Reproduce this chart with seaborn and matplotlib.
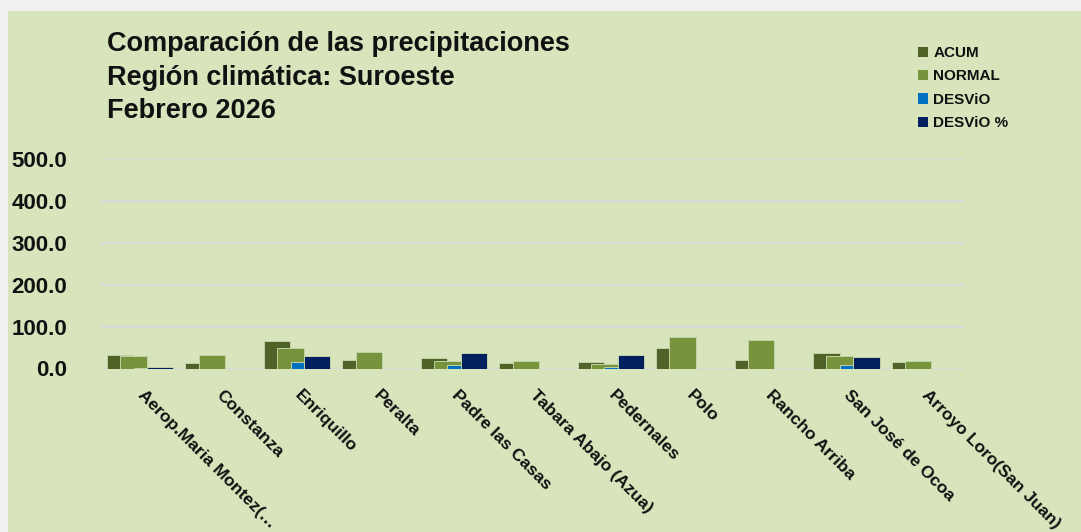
import matplotlib
matplotlib.use("Agg")
import matplotlib.pyplot as plt
import seaborn as sns
import numpy as np
from matplotlib.patches import Patch, Rectangle

# ---- data ----
stations = ["Aerop.Maria Montez(…", "Constanza", "Enriquillo", "Peralta", "Padre las Casas",
            "Tabara Abajo (Azua)", "Pedernales", "Polo", "Rancho Arriba", "San José de Ocoa",
            "Arroyo Loro(San Juan)"]
acum = [32.0, 12.5, 66.0, 20.5, 24.5, 12.5, 15.0, 50.0, 20.0, 37.5, 15.0]
normal = [29.5, 32.5, 50.0, 40.5, 17.5, 17.5, 11.0, 74.0, 67.0, 29.5, 17.5]
desvio = [2.0, -20.0, 15.5, -20.0, 7.5, -5.0, 4.0, -24.0, -47.0, 8.0, -2.5]
desvio_pct = [4.0, -61.5, 30.5, -49.4, 37.5, -28.6, 32.5, -32.4, -70.1, 27.0, -14.3]
series_names = ["ACUM", "NORMAL", "DESViO", "DESViO %"]
y_ticks = [0, 100, 200, 300, 400, 500]

colors = ["#4f6228", "#77933c", "#0070c0", "#002060"]
bg = "#d8e4bc"

sns.set_theme(style="white")
plt.rcParams["font.family"] = ["Liberation Sans", "DejaVu Sans"]

W, H = 1081, 532
fig = plt.figure(figsize=(W / 100, H / 100), dpi=100)
fig.patch.set_facecolor("#f1f1f1")
fig.add_artist(Rectangle((8 / W, 0), 1 - 8 / W, 1 - 11 / H, transform=fig.transFigure,
                         facecolor=bg, edgecolor="none", zorder=0))

ax = fig.add_axes([101 / W, 1 - 368.5 / H, (964 - 101) / W, (368.5 - 159) / H])
ax.set_facecolor(bg)
ax.patch.set_alpha(0)

x = np.arange(len(stations))
width = 0.338
step = 0.17
offsets = [-1.5 * step, -0.5 * step, 0.5 * step, 1.5 * step]
for vals, off, col in zip([acum, normal, desvio, desvio_pct], offsets, colors):
    sns.barplot(x=x + off, y=vals, native_scale=True, width=width, color=col,
                edgecolor="#c3d2a6", linewidth=0.7, errorbar=None, ax=ax,
                saturation=1, zorder=3)

ax.set_xlim(-0.5, len(stations) - 0.5)
ax.set_ylim(0, 500)
ax.set_yticks(y_ticks)
ax.set_yticklabels([f"{v:.1f}" for v in y_ticks], fontsize=16, fontweight="bold", color="#111111")
ax.yaxis.grid(True, color="#d9d9d9", linewidth=1.6, zorder=0)
ax.xaxis.grid(False)
ax.set_axisbelow(True)
for s in ax.spines.values():
    s.set_visible(False)
ax.tick_params(axis="y", length=0, pad=24.5)
ax.tick_params(axis="x", length=0, pad=17.5)
ax.set_xticks(x)
ax.set_xticklabels(stations, rotation=-45, ha="left", va="center", rotation_mode="anchor",
                   fontsize=12.5, fontweight="bold", color="#111111")
ax.set_xlabel("")
ax.set_ylabel("")

# Title
title_lines = ["Comparación de las precipitaciones", "Región climática: Suroeste", "Febrero 2026"]
for line, yb in zip(title_lines, [51, 85, 118.5]):
    fig.text(107 / W, 1 - yb / H, line, fontsize=19.5, fontweight="bold", color="#111111",
             va="baseline", ha="left")

handles = [Patch(facecolor=c, edgecolor="none") for c in colors]
fig.legend(handles, series_names, loc="upper left", bbox_to_anchor=(918 / W, 1 - 46 / H),
           bbox_transform=fig.transFigure, frameon=False, borderpad=0, borderaxespad=0,
           prop={"size": 11, "weight": "bold"}, labelspacing=0.62, handlelength=0.65,
           handleheight=0.65, handletextpad=0.35, labelcolor="#111111")

fig.savefig("out.png", dpi=100, facecolor=fig.get_facecolor())
